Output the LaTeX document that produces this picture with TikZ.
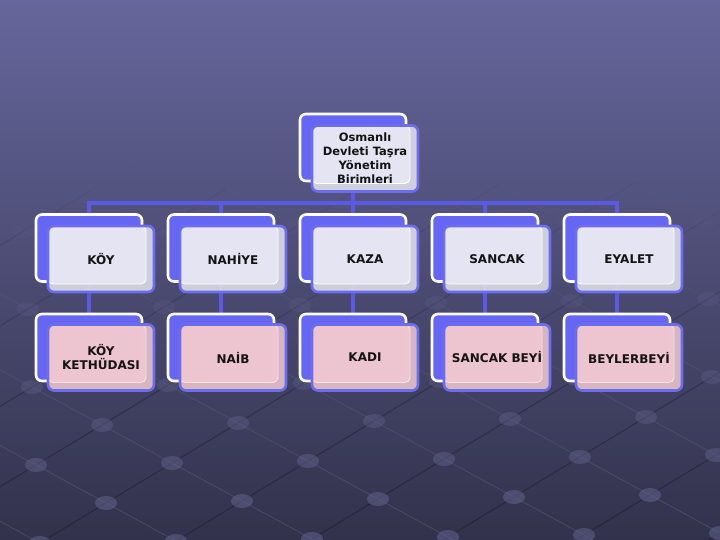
\documentclass[tikz,border=0pt]{standalone}
\usepackage{fontspec}
\setmainfont{DejaVu Sans}
\usetikzlibrary{positioning}
\pgfdeclarelayer{bg}
\pgfdeclarelayer{links}
\pgfsetlayers{bg,links,main}

\definecolor{bgtop}{HTML}{66669C}
\definecolor{bgmid}{HTML}{50507C}
\definecolor{bgbot}{HTML}{32324C}
\definecolor{backblue}{HTML}{6666F4}
\definecolor{edgeblue}{HTML}{6C6CEE}
\definecolor{linkblue}{HTML}{5A5AE4}
\definecolor{lavstrip}{HTML}{D9D9E4}
\definecolor{lavin}{HTML}{E6E6F4}
\definecolor{pinkstrip}{HTML}{E4BFC8}
\definecolor{pinkin}{HTML}{EFC7D1}
\definecolor{pinkrim}{HTML}{FCE0E4}
\definecolor{gridline}{HTML}{22223A}
\definecolor{gridknot}{HTML}{5E5E88}

\tikzset{
  backbox/.style={draw=white, line width=2.6pt, fill=backblue,
    rounded corners=6pt, minimum width=106pt, minimum height=67pt, inner sep=0pt},
  unitbox/.style n args={3}{draw=edgeblue, line width=2.6pt, fill=#1,
    fill opacity=0.93, text opacity=1, rounded corners=6pt,
    minimum width=106pt, minimum height=66pt, inner sep=0pt, align=center,
    font=\bfseries\fontsize{12pt}{14pt}\selectfont, text=black!92,
    path picture={
      \fill[#2, rounded corners=5pt] (path picture bounding box.north west)
        rectangle ([shift={(-8pt,8pt)}]path picture bounding box.south east);
      \draw[#3, line width=0.9pt, rounded corners=5pt] (path picture bounding box.north west)
        rectangle ([shift={(-8pt,8pt)}]path picture bounding box.south east);}},
  lavbox/.style={unitbox={lavstrip}{lavin}{white}},
  pinkbox/.style={unitbox={pinkstrip}{pinkin}{pinkrim}},
  link/.style={draw=linkblue, line width=3.2pt}
}

\begin{document}
\begin{tikzpicture}[x=1pt, y=-1pt]
\useasboundingbox (0,0) rectangle (720,540);

% background and floor grid
\begin{pgfonlayer}{bg}
\clip (0,0) rectangle (720,540);
\shade[top color=bgtop, middle color=bgmid, bottom color=bgbot] (0,0) rectangle (720,540);
\foreach \i in {-10,...,8}{
  \foreach \j in {-10,...,10}{
    \pgfmathsetmacro\px{172-66*\i+70*\j}
    \pgfmathsetmacro\py{463+40*\i+38*\j}
    \pgfmathtruncatemacro\ok{(\py>90)*(\py<600)*(\px>-120)*(\px<840)}
    \ifnum\ok=1
      \pgfmathsetmacro\op{max(0,min(1,(\py-150)/340))}
      \draw[gridline, line width=1.1pt, opacity=0.7*\op] (\px,\py) -- ++(-66,40);
      \draw[white, line width=0.8pt, opacity=0.11*\op] (\px,\py) -- ++(70,38);
      \fill[gridknot, opacity=0.6*\op] (\px,\py) ellipse (11 and 7);
    \fi
  }
}
\end{pgfonlayer}

% head unit
\node[backbox] (top-b) at (353,147.5) {};
\node[lavbox, font=\bfseries\fontsize{11.5pt}{14pt}\selectfont] (top) at (365,158.5)
  {Osmanlı\\Devleti Taşra\\Yönetim\\Birimleri};
\coordinate (bus) at (353,203);

% units and their officials
\foreach \nm/\unit/\chief [count=\k from 0] in
  {koy/KÖY/{KÖY\\KETHÜDASI}, nahiye/NAHİYE/NAİB, kaza/KAZA/KADI,
   sancak/SANCAK/{SANCAK BEYİ}, eyalet/EYALET/BEYLERBEYİ}{
  \pgfmathsetmacro\bx{89+132*\k}
  \node[backbox] (\nm-b) at (\bx,248) {};
  \node[lavbox] (\nm) at (\bx+12,259) {\unit};
  \node[backbox] (\nm-cb) at (\bx,347.5) {};
  \node[pinkbox] (\nm-c) at (\bx+12,357.5) {\chief};
  \begin{pgfonlayer}{links}
    \draw[link] (bus) -| (\nm-b.north);
    \draw[link] (\nm-b.south) -- (\nm-cb.north);
  \end{pgfonlayer}
}
\begin{pgfonlayer}{links}
  \draw[link] (top-b.south) -- (bus);
\end{pgfonlayer}
\end{tikzpicture}
\end{document}
